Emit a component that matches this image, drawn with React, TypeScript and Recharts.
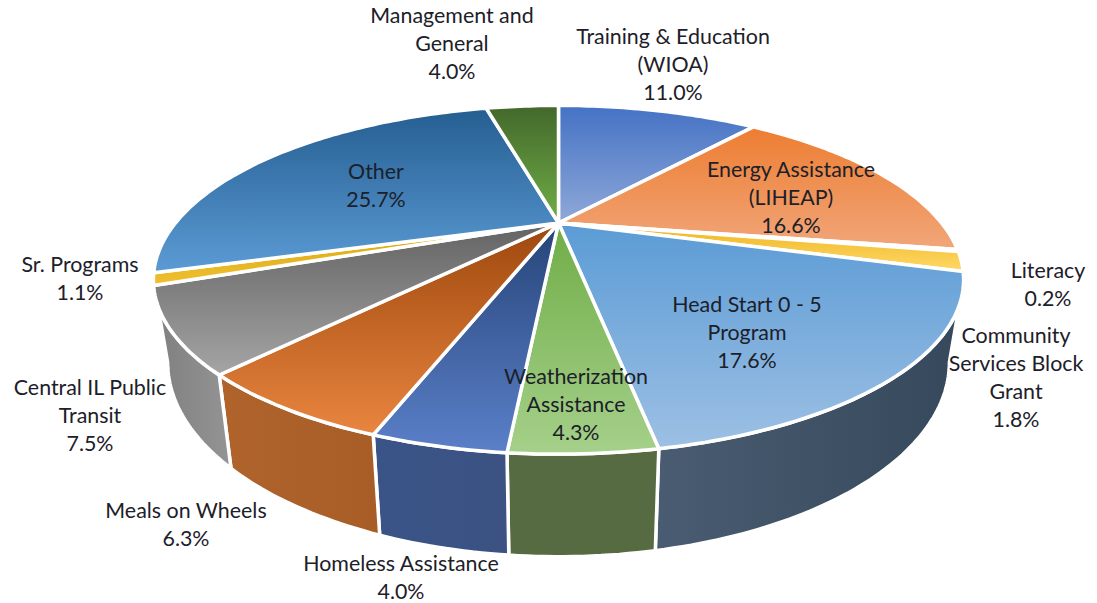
import { PieChart, Pie } from "recharts";

const categories = [
  "Training & Education (WIOA)",
  "Energy Assistance (LIHEAP)",
  "Literacy",
  "Community Services Block Grant",
  "Head Start 0 - 5 Program",
  "Weatherization Assistance",
  "Homeless Assistance",
  "Meals on Wheels",
  "Central IL Public Transit",
  "Sr. Programs",
  "Other",
  "Management and General",
];
const shares = [11.0, 16.6, 0.2, 1.8, 17.6, 4.3, 4.0, 6.3, 7.5, 1.1, 25.7, 4.0];

// label text split the way the picture wraps it
const labelLines = [
  ["Training & Education", "(WIOA)"],
  ["Energy Assistance", "(LIHEAP)"],
  ["Literacy"],
  ["Community", "Services Block", "Grant"],
  ["Head Start 0 - 5", "Program"],
  ["Weatherization", "Assistance"],
  ["Homeless Assistance"],
  ["Meals on Wheels"],
  ["Central IL Public", "Transit"],
  ["Sr. Programs"],
  ["Other"],
  ["Management and", "General"],
];
// centre x and first line y of each label
const labelSpots = [
  [673, 44], [791, 177], [1048, 278], [1016, 343], [747, 312], [576, 384],
  [401, 571], [186, 518], [90, 395], [80, 272], [376, 179], [452, 23],
];

// top face gradient, back of the disc to the front
const topDark = ["#4472c4", "#ed7d31", "#8a8a8a", "#eeb422", "#5b9bd5", "#70ad47", "#264478", "#9e480e", "#636363", "#d9a40f", "#255e91", "#43682b"];
const topLight = ["#8fa8d8", "#f1a67a", "#a5a5a5", "#ffd966", "#9dc0e4", "#a5d08a", "#5b80c9", "#e9853f", "#a5a5a5", "#f0c030", "#5b9bd5", "#70ad47"];
const wallLeft = ["#3a5488", "#b0642c", "#777777", "#b48a20", "#4a5c71", "#566b42", "#3a5488", "#b0642c", "#7f7f7f", "#b48a20", "#3e6b98", "#566b42"];
const wallRight = ["#3a5488", "#a85d27", "#777777", "#b48a20", "#36485b", "#566b42", "#3b5282", "#a85d27", "#949494", "#b48a20", "#3e6b98", "#566b42"];

const pieData = categories.map((name, i) => ({ name, value: shares[i] }));

const CHART_W = 1097;
const CHART_H = 603;
const TILT = 0.407;
const PERSPECTIVE = -0.3256;

// angle: recharts degrees, map onto the tilted disc
const rimPoint = (cx: number, cy: number, r: number, angle: number, bottom = false) => {
  const rad = (angle * Math.PI) / 180;
  const x = Math.cos(rad);
  const y = -Math.sin(rad);
  const d = 1 + PERSPECTIVE * y;
  const u = (r * x) / d;
  const v = (r * TILT * y) / d;
  if (bottom) return [cx + u * 0.965, cy + v * 1.115 + 76];
  return [cx + u, cy + v];
};

const rimPath = (cx: number, cy: number, r: number, from: number, to: number, bottom = false) => {
  const steps = Math.max(2, Math.ceil(Math.abs(to - from)));
  const pts: string[] = [];
  for (let i = 0; i <= steps; i++) {
    const p = rimPoint(cx, cy, r, from + ((to - from) * i) / steps, bottom);
    pts.push(`${p[0].toFixed(1)} ${p[1].toFixed(1)}`);
  }
  return pts;
};

const TopFace = (props: any) => {
  const { cx, cy, outerRadius, startAngle, endAngle, index } = props;
  const d = `M${cx} ${cy} L${rimPath(cx, cy, outerRadius, startAngle, endAngle).join(" L")} Z`;
  return (
    <g>
      <defs>
        <linearGradient id={`top-${index}`} x1="0" y1="0" x2="0" y2="1">
          <stop offset="0" stopColor={topDark[index]} />
          <stop offset="1" stopColor={topLight[index]} />
        </linearGradient>
      </defs>
      <path d={d} fill={`url(#top-${index})`} stroke="#fff" strokeWidth={3.5} strokeLinejoin="round" />
    </g>
  );
};

// only the front of the disc shows its side, recharts angles run -19 to -161 there
const WallFace = (props: any) => {
  const { cx, cy, outerRadius, startAngle, endAngle, index } = props;
  const from = Math.min(startAngle, -19);
  const to = Math.max(endAngle, -161);
  if (from <= to) return <g />;
  const top = rimPath(cx, cy, outerRadius, from, to);
  const low = rimPath(cx, cy, outerRadius, from, to, true).reverse();
  return (
    <g>
      <defs>
        <linearGradient id={`wall-${index}`} x1="0" y1="0" x2="1" y2="0">
          <stop offset="0" stopColor={wallLeft[index]} />
          <stop offset="1" stopColor={wallRight[index]} />
        </linearGradient>
      </defs>
      <path d={`M${top.join(" L")} L${low.join(" L")} Z`} fill={`url(#wall-${index})`} stroke="#fff" strokeWidth={3.5} strokeLinejoin="round" />
    </g>
  );
};

const SliceLabel = (props: any) => {
  const { index } = props;
  const [x, y] = labelSpots[index];
  const lines = [...labelLines[index], `${shares[index].toFixed(1)}%`];
  return (
    <text x={x} y={y} textAnchor="middle" fontFamily="Lato" fontSize={21.4} fill="#1c2029">
      {lines.map((line, i) => (
        <tspan key={i} x={x} dy={i === 0 ? 0 : 28}>
          {line}
        </tspan>
      ))}
    </text>
  );
};

export default function App() {
  return (
    <div style={{ position: "absolute", left: 0, top: 0, width: CHART_W, height: CHART_H, background: "#fff" }}>
      <PieChart width={CHART_W} height={CHART_H} margin={{ top: 0, right: 0, bottom: 0, left: 0 }}>
        <Pie
          data={pieData}
          dataKey="value"
          cx={558.5}
          cy={223}
          outerRadius={383}
          startAngle={90}
          endAngle={-270}
          shape={WallFace}
          isAnimationActive={false}
        />
        <Pie
          data={pieData}
          dataKey="value"
          cx={558.5}
          cy={223}
          outerRadius={383}
          startAngle={90}
          endAngle={-270}
          shape={TopFace}
          label={SliceLabel}
          labelLine={false}
          isAnimationActive={false}
        />
      </PieChart>
    </div>
  );
}
